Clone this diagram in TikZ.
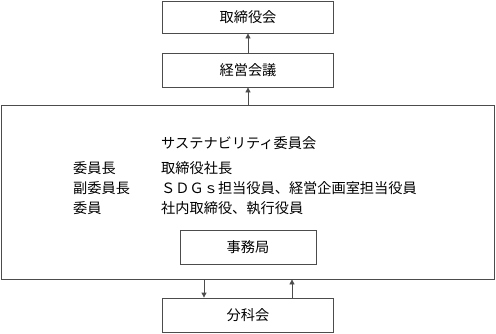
\documentclass[tikz,border=0pt]{standalone}
\usepackage{fontspec}
\setmainfont{Noto Sans CJK JP}
\usetikzlibrary{arrows.meta}
\def\xMid{248}
\def\xLbl{73}
\def\xVal{161}
\tikzset{
  orgline/.style={draw=black!70, line width=0.8pt},
  orgbox/.style={orgline, minimum width=171pt, minimum height=34pt, inner sep=0pt,
    font=\fontsize{14.2}{17}\selectfont},
  orgarr/.style={orgline, -{Triangle[length=5pt, width=5pt]}},
  orgtxt/.style={anchor=west, inner sep=0pt, font=\fontsize{14.2}{17}\selectfont},
}
\begin{document}
\begin{tikzpicture}[x=1pt, y=-1pt]
  \useasboundingbox (0,0) rectangle (496,333);

  % upper boxes
  \node[orgbox, minimum height=32pt] (torishimari) at (\xMid,17) {取締役会};
  \node[orgbox] (keiei) at (\xMid,70) {経営会議};

  % committee
  \node[orgbox, minimum width=493pt, minimum height=174pt] (iinkai) at (247.5,192) {};
  \node[orgtxt] (title) at (\xVal,143) {サステナビリティ委員会};
  \node[orgtxt] (lblA) at (\xLbl,168) {委員長};
  \node[orgtxt] (valA) at (\xVal,168) {取締役社長};
  \node[orgtxt] (lblB) at (\xLbl,188) {副委員長};
  \node[orgtxt] (valB) at (\xVal,188) {ＳＤＧｓ担当役員、経営企画室担当役員};
  \node[orgtxt] (lblC) at (\xLbl,208) {委員};
  \node[orgtxt] (valC) at (\xVal,208) {社内取締役、執行役員};
  \node[orgbox, minimum width=136pt] (jimu) at (\xMid,247) {事務局};

  % lower box
  \node[orgbox] (bunka) at (\xMid,315) {分科会};

  \coordinate (dnx) at (204,0);
  \coordinate (upx) at (292,0);
  \draw[orgarr] (keiei.north) -- (torishimari.south);
  \draw[orgarr] (iinkai.north -| keiei) -- (keiei.south);
  \draw[orgarr] (iinkai.south -| dnx) -- (bunka.north -| dnx);
  \draw[orgarr] (bunka.north -| upx) -- (iinkai.south -| upx);
\end{tikzpicture}
\end{document}
